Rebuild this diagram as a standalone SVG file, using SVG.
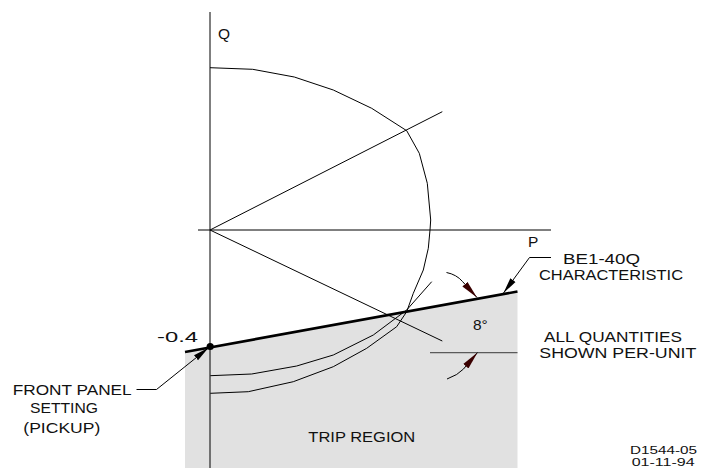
<svg xmlns="http://www.w3.org/2000/svg" width="701" height="475" viewBox="0 0 701 475">
  <style>
    .ln { fill: none; stroke: #000; stroke-width: 1; }
    .thick { fill: none; stroke: #000; stroke-width: 2.6; }
    .ref { fill: none; stroke: #5a5a5a; stroke-width: 1.3; }
    .t { font-family: "Liberation Sans", Arial, sans-serif; font-size: 15.5px; fill: #111; }
    .ts { font-family: "Liberation Sans", Arial, sans-serif; font-size: 10.5px; fill: #111; }
  </style>
  <defs>
    <marker id="ahb" viewBox="0 0 16 8" refX="16" refY="4" markerWidth="16" markerHeight="8" markerUnits="userSpaceOnUse" orient="auto">
      <path d="M0,0.8 L16,4 L0,7.2 z" fill="#000"/>
    </marker>
    <marker id="ahm" viewBox="0 0 18 8" refX="18" refY="4" markerWidth="18" markerHeight="8" markerUnits="userSpaceOnUse" orient="auto">
      <path d="M0,0.6 L18,4 L0,7.4 z" fill="#3a0000"/>
    </marker>
  </defs>
  <rect width="701" height="475" fill="#fff"/>

  <g id="trip-region">
    <polygon points="185,352 517.5,291.5 517.5,468 185,468" fill="#e1e1e1"/>
  </g>

  <g id="axes">
    <line class="ln" x1="210" y1="12" x2="210" y2="468"/>
    <line class="ln" x1="198" y1="230" x2="551" y2="230"/>
    <text class="t" x="218" y="39">Q</text>
    <text class="t" x="528" y="247">P</text>
  </g>

  <g id="curves">
    <polyline class="ln" points="210,67.7 252.7,69.3 294.3,77 333.3,90 371.7,108.3 406.7,130.7 419.3,153.3 427.3,183.3 430.7,220 430,230 428.3,248.3 423.3,270 413.3,293.3 406.7,311.7 396.7,326.7 366.7,348.3 333.3,366.7 293.3,381.7 248.3,391.7 210.3,393.3"/>
    <polyline class="ln" points="210.3,375.7 251.7,374 296.7,366 333.3,355 373.3,335 406.7,310 431.7,281.7"/>
    <line class="ln" x1="210" y1="230" x2="442.3" y2="111.7"/>
    <line class="ln" x1="210" y1="230" x2="442.3" y2="341"/>
  </g>

  <g id="characteristic">
    <line class="thick" x1="185" y1="352" x2="517.5" y2="291.5"/>
    <circle cx="210.2" cy="346.5" r="3.6" fill="#000"/>
    <text class="t" x="157" y="342" textLength="41" lengthAdjust="spacingAndGlyphs">-0.4</text>
  </g>

  <g id="angle">
    <line class="ref" x1="430" y1="352.7" x2="517.5" y2="352.7"/>
    <text class="t" x="473" y="330">8°</text>
  </g>

  <g id="connectors">
    <path class="ln" d="M446.5,272.5 Q456.5,274.5 462.5,281.5 L477,297.5" marker-end="url(#ahm)"/>
    <path class="ln" d="M447,379 Q458,375 463.5,369 L477.5,352.5" marker-end="url(#ahm)"/>
    <path class="ln" d="M551,257.5 H529.5 L503.5,293" marker-end="url(#ahb)"/>
    <path class="ln" d="M136.5,389.5 H156.5 L208.5,347.8" marker-end="url(#ahb)"/>
  </g>

  <g id="labels">
    <text class="t" x="563" y="263.5" textLength="77" lengthAdjust="spacingAndGlyphs">BE1-40Q</text>
    <text class="t" x="539" y="280" textLength="144" lengthAdjust="spacingAndGlyphs">CHARACTERISTIC</text>
    <text class="t" x="544" y="341.7" textLength="138" lengthAdjust="spacingAndGlyphs">ALL QUANTITIES</text>
    <text class="t" x="539.3" y="358.3" textLength="157" lengthAdjust="spacingAndGlyphs">SHOWN PER-UNIT</text>
    <text class="t" x="12.7" y="395" textLength="119" lengthAdjust="spacingAndGlyphs">FRONT PANEL</text>
    <text class="t" x="30" y="413.3" textLength="68" lengthAdjust="spacingAndGlyphs">SETTING</text>
    <text class="t" x="23.3" y="433" textLength="77" lengthAdjust="spacingAndGlyphs">(PICKUP)</text>
    <text class="t" x="308.3" y="441.7" textLength="107" lengthAdjust="spacingAndGlyphs">TRIP REGION</text>
    <text class="ts" x="630" y="454" textLength="67" lengthAdjust="spacingAndGlyphs">D1544-05</text>
    <text class="ts" x="631.7" y="466" textLength="63" lengthAdjust="spacingAndGlyphs">01-11-94</text>
  </g>
</svg>
